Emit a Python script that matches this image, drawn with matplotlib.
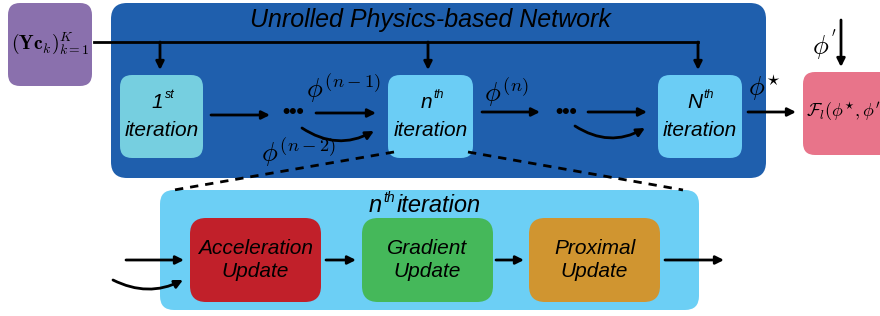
import matplotlib
matplotlib.use("Agg")
import matplotlib.pyplot as plt
from matplotlib.patches import FancyBboxPatch, FancyArrowPatch

plt.rcParams['mathtext.fontset'] = 'cm'
plt.rcParams['font.family'] = ['Liberation Sans', 'DejaVu Sans']

# labels
title_top = "Unrolled Physics-based Network"
title_bottom = "iteration"
iter_heads = ["1", "n", "N"]
iter_sups = ["st", "th", "th"]
stage_names = ["Acceleration\nUpdate", "Gradient\nUpdate", "Proximal\nUpdate"]
stage_colors = ["#c1202a", "#45b85a", "#d09530"]
input_label = r"$(\mathbf{Yc}_k)_{k=1}^{K}$"
loss_label = r"$\mathcal{F}_l(\phi^{\star},\phi^{\prime})$"
phi_labels = [r"$\phi^{(n-1)}$", r"$\phi^{(n-2)}$", r"$\phi^{(n)}$", r"$\phi^{\star}$", r"$\phi^{'}$"]

fig = plt.figure(figsize=(8.8, 3.16), dpi=100)
ax = fig.add_axes([0, 0, 1, 1])
ax.set_xlim(0, 880)
ax.set_ylim(316, 0)
ax.axis('off')


def rbox(x0, y0, x1, y1, color, pad=12):
    p = FancyBboxPatch((x0 + pad, y0 + pad), x1 - x0 - 2 * pad, y1 - y0 - 2 * pad,
                       boxstyle="round,pad=%d" % pad, fc=color, ec='none')
    ax.add_patch(p)


def arrow(p0, p1, rad=0.0, lw=2):
    a = FancyArrowPatch(p0, p1, arrowstyle='-|>', mutation_scale=12, lw=lw, color='black',
                        connectionstyle="arc3,rad=%s" % rad, shrinkA=0, shrinkB=0)
    ax.add_patch(a)


# outer boxes
rbox(8, 3, 92, 86, "#8a70ad")
rbox(111, 3, 766, 178, "#1f5fad", pad=16)
rbox(803, 72, 900, 155, "#e8748a")
rbox(160, 190, 699, 310, "#6ccff5", pad=14)

ax.text(430, 20, title_top, ha='center', va='center', fontsize=18, style='italic')
ax.text(50, 43, input_label, ha='center', va='center', fontsize=14)
ax.text(806, 112, loss_label, ha='left', va='center', fontsize=13)

# iteration boxes
iter_x = [(120, 203), (388, 473), (658, 742)]
iter_col = ["#76cfe0", "#6bcdf5", "#6bcdf5"]
for (x0, x1), c, h, s in zip(iter_x, iter_col, iter_heads, iter_sups):
    rbox(x0, 75, x1, 158, c)
    cx = (x0 + x1) / 2
    ax.text(cx + 2, 103, h, ha='right', va='center', fontsize=15, style='italic')
    ax.text(cx + 3, 95, s, ha='left', va='center', fontsize=9, style='italic')
    ax.text(cx, 131, "iteration", ha='center', va='center', fontsize=15, style='italic')

# top input line
ax.plot([94, 698], [42, 42], color='black', lw=2)
for x in [160, 428, 698]:
    arrow((x, 42), (x, 70))

# flow arrows
arrow((211, 115), (270, 115))
ax.text(293, 113, "•••", ha='center', va='center', fontsize=15, fontweight='bold')
arrow((316, 113), (376, 113))
arrow((302, 128), (374, 131), rad=0.3)
arrow((482, 112), (540, 112))
ax.text(566, 112, "•••", ha='center', va='center', fontsize=15, fontweight='bold')
arrow((588, 112), (647, 112))
arrow((575, 126), (645, 128), rad=0.3)
arrow((748, 112), (796, 112))
arrow((841, 20), (841, 67))

ax.text(343, 88, phi_labels[0], ha='center', va='center', fontsize=19)
ax.text(298, 152, phi_labels[1], ha='center', va='center', fontsize=19)
ax.text(506, 92, phi_labels[2], ha='center', va='center', fontsize=19)
ax.text(765, 88, phi_labels[3], ha='center', va='center', fontsize=19)
ax.text(825, 45, phi_labels[4], ha='center', va='center', fontsize=19)

# zoom lines
ax.plot([394, 174], [152, 190], color='black', lw=2, ls=(0, (3, 2.5)))
ax.plot([468, 683], [152, 190], color='black', lw=2, ls=(0, (3, 2.5)))

# inner title
ax.text(382, 205, "n", ha='right', va='center', fontsize=17, style='italic')
ax.text(383, 198, "th", ha='left', va='center', fontsize=10, style='italic')
ax.text(397, 205, title_bottom, ha='left', va='center', fontsize=17, style='italic')

# stages
stage_x = [(190, 321), (362, 493), (529, 660)]
for (x0, x1), c, name in zip(stage_x, stage_colors, stage_names):
    rbox(x0, 218, x1, 302, c, pad=16)
    ax.text((x0 + x1) / 2, 260, name, ha='center', va='center', fontsize=15,
            style='italic', linespacing=1.25)

arrow((126, 260), (184, 260))
arrow((113, 280), (183, 280), rad=0.25)
arrow((326, 260), (356, 260))
arrow((496, 260), (524, 260))
arrow((665, 260), (724, 260))

fig.savefig("out.png", dpi=100)
